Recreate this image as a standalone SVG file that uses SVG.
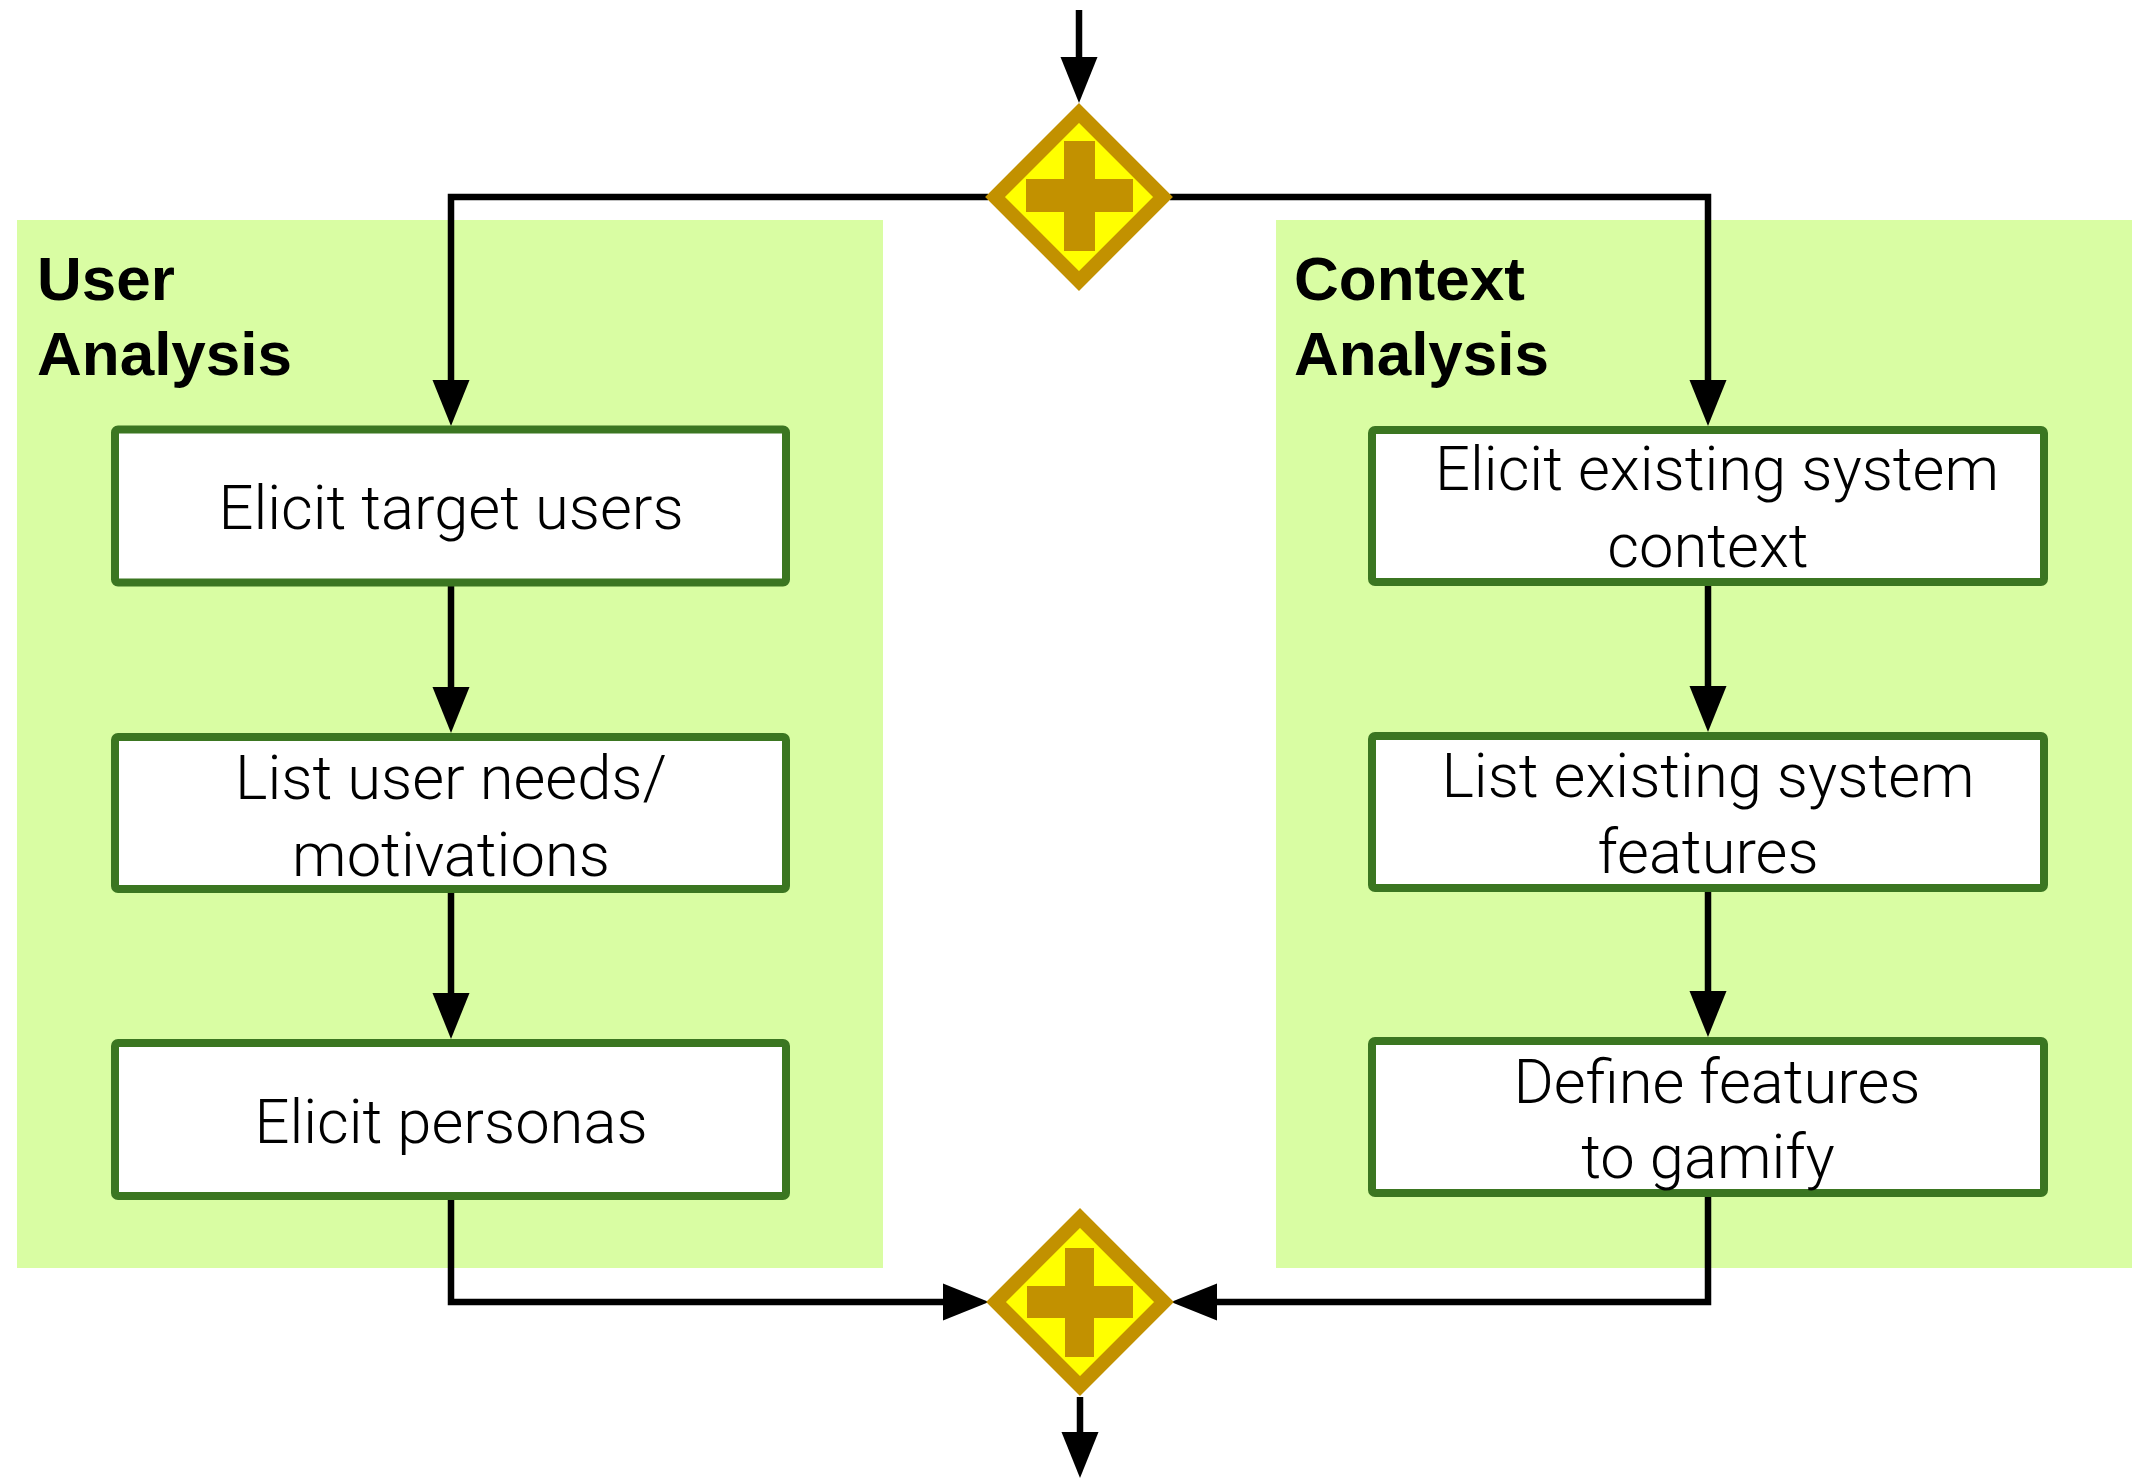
<svg xmlns="http://www.w3.org/2000/svg" width="2132" height="1479" viewBox="0 0 2132 1479">
  <style>
    .lane { fill: #D9FDA3; }
    .lane-title { font-family: "Liberation Sans", Arial, sans-serif; font-weight: bold; font-size: 62px; fill: #000; }
    .task rect { fill: #FFFFFF; stroke: #3B7621; stroke-width: 8; }
    .task text { font-family: Roboto, "Liberation Sans", sans-serif; font-weight: 300; font-size: 61.5px; fill: #000; text-anchor: middle; }
    .gate .diamond { fill: #FFFF00; stroke: #C29100; stroke-width: 14; stroke-linejoin: miter; }
    .gate .cross { fill: #C29100; }
    .flow { fill: none; stroke: #000; stroke-width: 6.5; stroke-linejoin: miter; }
  </style>
  <defs>
    <marker id="arrow" markerUnits="userSpaceOnUse" markerWidth="46" markerHeight="38" refX="0" refY="18.5" orient="auto" overflow="visible">
      <path d="M0,0 L46,18.5 L0,37 Z" fill="#000"/>
    </marker>
  </defs>

  <rect width="2132" height="1479" fill="#FFFFFF"/>

  <!-- swimlanes -->
  <g id="lane-user">
    <rect class="lane" x="17" y="220" width="866" height="1048"/>
    <text class="lane-title" x="37" y="300">User</text>
    <text class="lane-title" x="37" y="375">Analysis</text>
  </g>
  <g id="lane-context">
    <rect class="lane" x="1276" y="220" width="856" height="1048"/>
    <text class="lane-title" x="1294" y="300">Context</text>
    <text class="lane-title" x="1294" y="375">Analysis</text>
  </g>

  <!-- connectors -->
  <g id="connectors">
    <path class="flow" d="M1079,10 V57" marker-end="url(#arrow)"/>
    <path class="flow" d="M988,197 H451 V380" marker-end="url(#arrow)"/>
    <path class="flow" d="M1170,197 H1708 V380" marker-end="url(#arrow)"/>
    <path class="flow" d="M451,586 V687" marker-end="url(#arrow)"/>
    <path class="flow" d="M451,893 V993" marker-end="url(#arrow)"/>
    <path class="flow" d="M1708,586 V686" marker-end="url(#arrow)"/>
    <path class="flow" d="M1708,892 V991" marker-end="url(#arrow)"/>
    <path class="flow" d="M451,1200 V1302 H943" marker-end="url(#arrow)"/>
    <path class="flow" d="M1708,1197 V1302 H1217" marker-end="url(#arrow)"/>
    <path class="flow" d="M1080,1397 V1432" marker-end="url(#arrow)"/>
  </g>

  <!-- parallel gateways -->
  <g id="gate-split" class="gate">
    <path class="diamond" d="M1079,113 L1163,197 L1079,281 L995,197 Z"/>
    <rect class="cross" x="1026" y="179" width="107" height="33"/>
    <rect class="cross" x="1064" y="141" width="31" height="110"/>
  </g>
  <g id="gate-join" class="gate">
    <path class="diamond" d="M1080,1218 L1164,1302 L1080,1386 L996,1302 Z"/>
    <rect class="cross" x="1027" y="1286" width="106" height="32"/>
    <rect class="cross" x="1065" y="1248" width="29" height="109"/>
  </g>

  <!-- user analysis tasks -->
  <g id="task-target-users" class="task">
    <rect x="115" y="429.5" width="671" height="153" rx="3"/>
    <text x="451" y="529">Elicit target users</text>
  </g>
  <g id="task-user-needs" class="task">
    <rect x="115" y="737" width="671" height="152" rx="3"/>
    <text x="451" y="799">List user needs/</text>
    <text x="451" y="876">motivations</text>
  </g>
  <g id="task-personas" class="task">
    <rect x="115" y="1043" width="671" height="153" rx="3"/>
    <text x="451" y="1143">Elicit personas</text>
  </g>

  <!-- context analysis tasks -->
  <g id="task-system-context" class="task">
    <rect x="1372" y="430" width="672" height="152" rx="3"/>
    <text x="1717" y="490">Elicit existing system</text>
    <text x="1708" y="567">context</text>
  </g>
  <g id="task-system-features" class="task">
    <rect x="1372" y="736" width="672" height="152" rx="3"/>
    <text x="1708" y="797">List existing system</text>
    <text x="1708" y="873">features</text>
  </g>
  <g id="task-gamify" class="task">
    <rect x="1372" y="1041" width="672" height="152" rx="3"/>
    <text x="1717" y="1103">Define features</text>
    <text x="1708" y="1178">to gamify</text>
  </g>
</svg>
